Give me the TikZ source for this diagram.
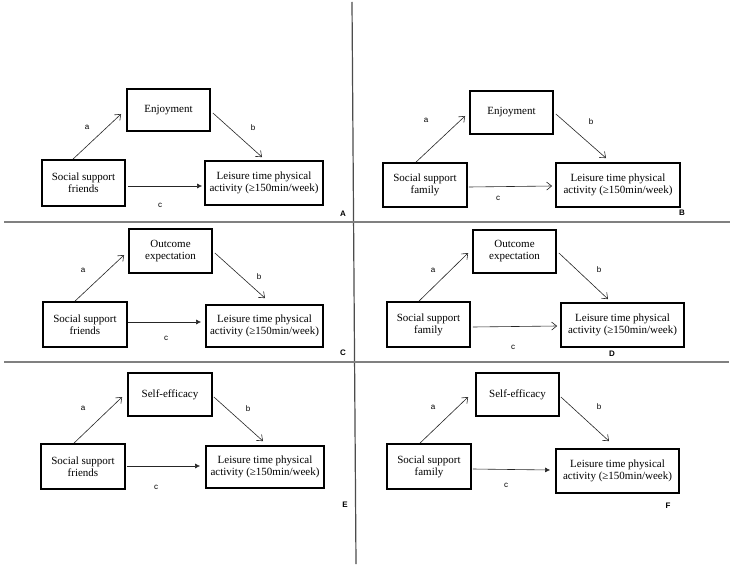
\documentclass[tikz,border=0pt]{standalone}
\usepackage{fontspec}
\setmainfont{Liberation Serif}
\newfontfamily\labfont{Liberation Sans}
\usetikzlibrary{arrows.meta,calc}
\begin{document}
\begin{tikzpicture}[x=1pt,y=-1pt,
  box/.style={draw=black,line width=1.8pt,inner sep=0pt,align=center,
    font=\fontsize{11}{12}\selectfont},
  openarr/.style={draw=black!85,line width=0.6pt,-{Straight Barb[length=5pt,width=8pt]}},
  fillarr/.style={draw=black!85,line width=0.6pt,-{Latex[length=5pt,width=5pt]}},
  pathlab/.style={font=\labfont\fontsize{8}{9}\selectfont,inner sep=0pt},
  panlab/.style={font=\labfont\bfseries\fontsize{8}{9}\selectfont,inner sep=0pt},
  divider/.style={draw=black!50,line width=1.2pt},
  vdivider/.style={draw=black!70,line width=1.2pt}]
\useasboundingbox (0,0) rectangle (733,567);
\fill[white] (0,0) rectangle (733,567);

% dividers
\coordinate (vt) at (352,2);
\coordinate (vb) at (356,564);
\draw[vdivider] (vt) -- (vb);
\coordinate (h1l) at (4,222);
\coordinate (h1r) at (730,222);
\draw[divider] (h1l) -- (h1r);
\coordinate (h2l) at (4,362);
\coordinate (h2r) at (729,362);
\draw[divider] (h2l) -- (h2r);

% ---------- Panel A ----------
\node[box,minimum width=83pt,minimum height=42pt] (mA) at (168.5,110) {Enjoyment};
\node[box,minimum width=83pt,minimum height=46pt] (sA) at (83.5,183) {Social support\\friends};
\node[box,minimum width=118pt,minimum height=44pt] (lA) at (264,183) {Leisure time physical\\activity (≥150min/week)};
\draw[openarr] ($(sA.north)+(-10.5,0)$) -- ($(mA.west)+(-5,4)$);
\draw[openarr] ($(mA.east)+(2,3)$) -- ($(lA.north)+(-2,-3)$);
\draw[fillarr] ($(sA.east)+(2,3)$) -- ($(lA.west)+(-2,3)$);
\node[pathlab] (aA) at (87,127) {a};
\node[pathlab] (bA) at (253,128) {b};
\node[pathlab] (cA) at (160,205) {c};
\node[panlab] (pA) at (343,214) {A};

% ---------- Panel B ----------
\node[box,minimum width=83pt,minimum height=43pt] (mB) at (511.5,112.5) {Enjoyment};
\node[box,minimum width=84pt,minimum height=44pt] (sB) at (425,185) {Social support\\family};
\node[box,minimum width=124pt,minimum height=44pt] (lB) at (618,185) {Leisure time physical\\activity (≥150min/week)};
\draw[openarr] ($(sB.north)+(-9,0)$) -- ($(mB.west)+(-4,3.5)$);
\draw[openarr] ($(mB.east)+(2,1.5)$) -- ($(lB.north)+(-12,-4)$);
\draw[openarr] ($(sB.east)+(1,2)$) -- ($(lB.west)+(-3,1)$);
\node[pathlab] (aB) at (426,120) {a};
\node[pathlab] (bB) at (591,122) {b};
\node[pathlab] (cB) at (498,198) {c};
\node[panlab] (pB) at (682,213) {B};

% ---------- Panel C ----------
\node[box,minimum width=83pt,minimum height=44pt] (mC) at (170.5,251) {Outcome\\expectation};
\node[box,minimum width=84pt,minimum height=45pt] (sC) at (85,324.5) {Social support\\friends};
\node[box,minimum width=117pt,minimum height=42pt] (lC) at (264.5,326) {Leisure time physical\\activity (≥150min/week)};
\draw[openarr] ($(sC.north)+(-10,0)$) -- ($(mC.west)+(-4,4)$);
\draw[openarr] ($(mC.east)+(2,2)$) -- ($(lC.north)+(0.5,-6)$);
\draw[fillarr] ($(sC.east)+(0,-2.5)$) -- ($(lC.west)+(-4,-4)$);
\node[pathlab] (aC) at (83,270) {a};
\node[pathlab] (bC) at (259,277) {b};
\node[pathlab] (cC) at (166,338) {c};
\node[panlab] (pC) at (343,353) {C};

% ---------- Panel D ----------
\node[box,minimum width=83pt,minimum height=43pt] (mD) at (514.5,251.5) {Outcome\\expectation};
\node[box,minimum width=83pt,minimum height=45pt] (sD) at (428.5,324.5) {Social support\\family};
\node[box,minimum width=123pt,minimum height=44pt] (lD) at (622.5,325) {Leisure time physical\\activity (≥150min/week)};
\draw[openarr] ($(sD.north)+(-9.5,0)$) -- ($(mD.west)+(-4,1.5)$);
\draw[openarr] ($(mD.east)+(2,1.5)$) -- ($(lD.north)+(-14.5,-3)$);
\draw[openarr] ($(sD.east)+(2,2.5)$) -- ($(lD.west)+(-3,1)$);
\node[pathlab] (aD) at (433,270) {a};
\node[pathlab] (bD) at (599,270) {b};
\node[pathlab] (cD) at (513,347) {c};
\node[panlab] (pD) at (612,354) {D};

% ---------- Panel E ----------
\node[box,minimum width=84pt,minimum height=43pt] (mE) at (170,394.5) {Self-efficacy};
\node[box,minimum width=84pt,minimum height=45pt] (sE) at (83,466.5) {Social support\\friends};
\node[box,minimum width=118pt,minimum height=42pt] (lE) at (265,467) {Leisure time physical\\activity (≥150min/week)};
\draw[openarr] ($(sE.north)+(-9,0)$) -- ($(mE.west)+(-5,2.5)$);
\draw[openarr] ($(mE.east)+(1,2.5)$) -- ($(lE.north)+(-2,-4)$);
\draw[fillarr] ($(sE.east)+(1,-0.5)$) -- ($(lE.west)+(-5,-1)$);
\node[pathlab] (aE) at (83,408) {a};
\node[pathlab] (bE) at (248,409) {b};
\node[pathlab] (cE) at (156,487) {c};
\node[panlab] (pE) at (345,505) {E};

% ---------- Panel F ----------
\node[box,minimum width=83pt,minimum height=43pt] (mF) at (517.5,394.5) {Self-efficacy};
\node[box,minimum width=84pt,minimum height=45pt] (sF) at (429,466.5) {Social support\\family};
\node[box,minimum width=123pt,minimum height=44pt] (lF) at (617.5,471) {Leisure time physical\\activity (≥150min/week)};
\draw[openarr] ($(sF.north)+(-9,0)$) -- ($(mF.west)+(-7,2.5)$);
\draw[openarr] ($(mF.east)+(1,2.5)$) -- ($(lF.north)+(-8.5,-7)$);
\draw[fillarr] ($(sF.east)+(1,2.5)$) -- ($(lF.west)+(-5,-1)$);
\node[pathlab] (aF) at (433,407) {a};
\node[pathlab] (bF) at (599,407) {b};
\node[pathlab] (cF) at (506,485) {c};
\node[panlab] (pF) at (668,506) {F};
\end{tikzpicture}
\end{document}
